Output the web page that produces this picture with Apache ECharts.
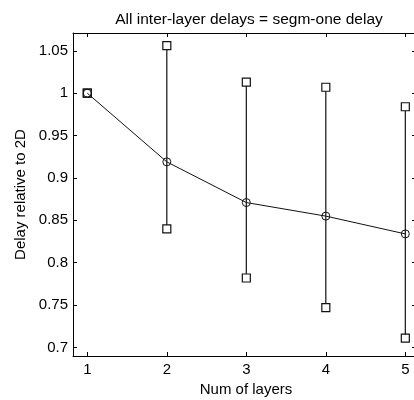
<!DOCTYPE html>
<html><head><meta charset="utf-8">
<script src="https://cdn.jsdelivr.net/npm/echarts@6/dist/echarts.min.js"></script>
<style>html,body{margin:0;padding:0;background:#fff}#c{width:414px;height:400px}</style>
</head><body><div id="c"></div>
<script>
var layers = [1, 2, 3, 4, 5];
var meanDelay = [1, 0.919, 0.871, 0.855, 0.834];
var upperDelay = [1, 1.056, 1.013, 1.007, 0.984];
var lowerDelay = [1, 0.840, 0.782, 0.747, 0.711];
var xTicks = [1, 2, 3, 4, 5];
var yTicks = [0.7, 0.75, 0.8, 0.85, 0.9, 0.95, 1, 1.05];

var font = 'Liberation Sans, Arial, sans-serif';
var chart = echarts.init(document.getElementById('c'));
var series = [];
layers.forEach(function (x, i) {
  series.push({
    type: 'line', xAxisIndex: 0, yAxisIndex: 0,
    data: [[x, lowerDelay[i]], [x, upperDelay[i]]],
    symbol: 'rect', symbolSize: 8, showAllSymbol: true,
    lineStyle: {color: '#111', width: 1.2},
    itemStyle: {color: '#fff', borderColor: '#111', borderWidth: 1.2},
    silent: true, animation: false, z: 2
  });
});
series.push({
  type: 'line', xAxisIndex: 0, yAxisIndex: 0,
  data: layers.map(function (x, i) { return [x, meanDelay[i]]; }),
  symbol: 'circle', symbolSize: 8,
  lineStyle: {color: '#111', width: 1},
  itemStyle: {color: 'rgba(0,0,0,0)', borderColor: '#111', borderWidth: 1},
  silent: true, animation: false, z: 3
});
var axLine = {show: true, lineStyle: {color: '#000', width: 1}};
chart.setOption({
  animation: false,
  title: {text: 'All inter-layer delays = segm-one delay', left: 244, top: 7, textAlign: 'center',
    textStyle: {fontFamily: font, fontSize: 15.5, fontWeight: 'normal', color: '#000'}},
  grid: {left: 73, top: 33, width: 346, height: 323, outerBoundsMode: 'none', containLabel: false},
  xAxis: [{
    type: 'value', min: 0.82, max: 5.172, position: 'bottom',
    axisLine: axLine, splitLine: {show: false},
    axisTick: {show: true, inside: true, length: 4, customValues: xTicks, lineStyle: {color: '#000'}},
    axisLabel: {customValues: xTicks, fontFamily: font, fontSize: 15, color: '#000', margin: 6},
    name: 'Num of layers', nameLocation: 'middle', nameGap: 25,
    nameTextStyle: {fontFamily: font, fontSize: 15, color: '#000'}
  }, {
    type: 'value', min: 0.82, max: 5.172, position: 'top',
    axisLine: axLine, splitLine: {show: false},
    axisTick: {show: true, inside: true, length: 4, customValues: xTicks, lineStyle: {color: '#000'}},
    axisLabel: {show: false}
  }],
  yAxis: [{
    type: 'value', min: 0.69, max: 1.071, position: 'left',
    axisLine: axLine, splitLine: {show: false},
    axisTick: {show: true, inside: true, length: 4, customValues: yTicks, lineStyle: {color: '#000'}},
    axisLabel: {customValues: yTicks, fontFamily: font, fontSize: 15, color: '#000', margin: 5},
    name: 'Delay relative to 2D', nameLocation: 'middle', nameGap: 42, nameRotate: 90,
    nameTextStyle: {fontFamily: font, fontSize: 15, color: '#000'}
  }, {
    type: 'value', min: 0.69, max: 1.071, position: 'right',
    axisLine: axLine, splitLine: {show: false},
    axisTick: {show: true, inside: true, length: 7, customValues: yTicks, lineStyle: {color: '#000'}},
    axisLabel: {show: false}
  }],
  series: series
});
</script></body></html>
